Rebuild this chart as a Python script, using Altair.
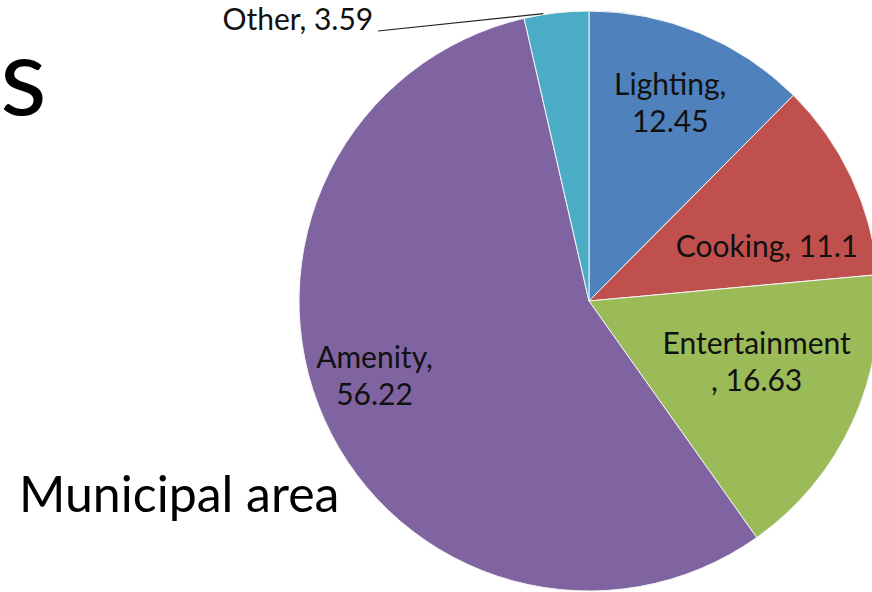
import math
import altair as alt
import pandas as pd

# ---- data ----
categories = ["Lighting", "Cooking", "Entertainment", "Amenity", "Other"]
values = [12.45, 11.1, 16.63, 56.22, 3.59]
colors = ["#4F81BD", "#C0504D", "#9BBB59", "#8064A2", "#4BACC6"]
separators = [",\n", ", ", "\n, ", ",\n", ", "]

labels = [f"{c}{s}{v}" for c, s, v in zip(categories, separators, values)]
df = pd.DataFrame({
    "cat": categories,
    "value": values,
    "idx": list(range(len(categories))),
    "label": labels,
})

# ---- geometry / style ----
W, H = 872, 592
CX, CY, R = 589, 301, 290
FONT = "Lato"
LABEL_R = 200
# per-label offsets (dx, dy, align, radius)
label_style = {
    "Lighting": (5, -21, "center", LABEL_R),
    "Cooking": (-3, 41, "center", LABEL_R),
    "Entertainment": (-14, -31, "center", LABEL_R),
    "Amenity": (-32, -15, "center", LABEL_R),
    "Other": (-182, 27, "right", 300),
}

base = alt.Chart(df)
theta = alt.Theta("value:Q", stack=True)
order = alt.Order("idx:Q", sort="ascending")

pie = base.mark_arc(outerRadius=R, stroke="#f4f4f4", strokeWidth=1).encode(
    theta=theta,
    order=order,
    color=alt.Color("cat:N", scale=alt.Scale(domain=categories, range=colors), legend=None),
    x=alt.value(CX),
    y=alt.value(CY),
)

layers = [pie]
for cat in categories:
    dx, dy, align, rad = label_style[cat]
    t = base.transform_calculate(
        txt=f"datum.cat === '{cat}' ? datum.label : ''"
    ).mark_text(
        font=FONT, fontSize=30, color="#111111", align=align, baseline="alphabetic",
        lineBreak="\n", lineHeight=37, dx=dx, dy=dy,
    ).encode(
        theta=theta,
        order=order,
        radius=alt.value(rad),
        text="txt:N",
        x=alt.value(CX),
        y=alt.value(CY),
    )
    layers.append(t)

# leader line for "Other": from the label to the slice's rim
cum = sum(values[:-1])
mid = (cum + values[-1] * 0.3) / sum(values) * 2 * math.pi
ex, ey = CX + (R + 1) * math.sin(mid), CY - (R + 1) * math.cos(mid)
leader = alt.Chart(pd.DataFrame({"a": [0]})).mark_rule(color="#222222", strokeWidth=1.2).encode(
    x=alt.value(378), y=alt.value(31), x2=alt.value(ex), y2=alt.value(ey)
)
layers.append(leader)

ann = pd.DataFrame({"a": [0]})
s_text = alt.Chart(ann).mark_text(
    text="s", font=FONT, fontSize=108, align="left", baseline="alphabetic", color="black"
).encode(x=alt.value(0), y=alt.value(115))
muni = alt.Chart(ann).mark_text(
    text="Municipal area", font=FONT, fontSize=50, align="left", baseline="alphabetic", color="black"
).encode(x=alt.value(19), y=alt.value(512))
layers += [s_text, muni]

chart = alt.layer(*layers).properties(
    width=W, height=H, autosize=alt.AutoSizeParams(type="none"), padding=0,
    background="white",
).configure_view(stroke=None)

chart.save("out.html", embed_options={"renderer": "svg", "actions": False})
